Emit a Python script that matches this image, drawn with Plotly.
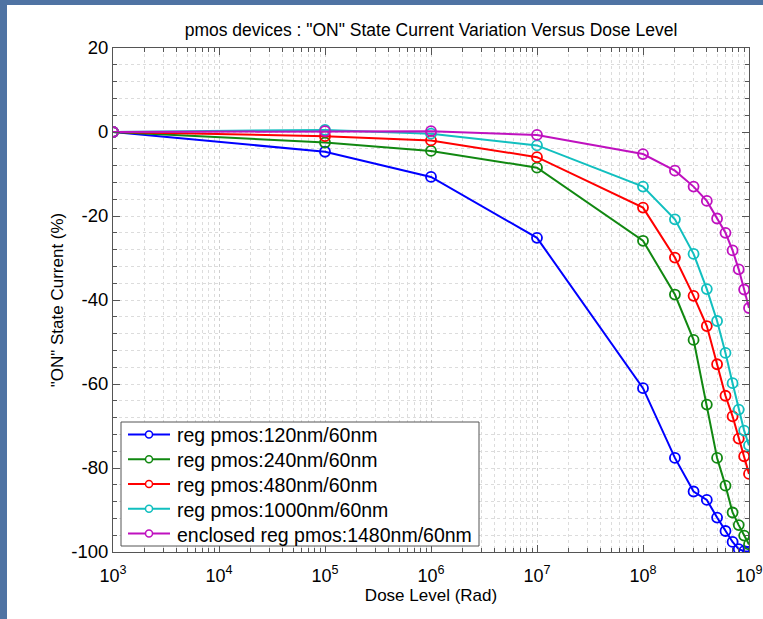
import plotly.graph_objects as go

dose = [1e3, 1e5, 1e6, 1e7, 1e8, 2e8, 3e8, 4e8, 5e8, 6e8, 7e8, 8e8, 9e8, 1e9]

reg_120 = [0, -4.7, -10.7, -25.2, -61.0, -77.6, -85.6, -87.6, -91.8, -95.0, -97.6, -99.3, -99.8, -99.9]
reg_240 = [0, -2.5, -4.5, -8.5, -25.9, -38.7, -49.5, -64.9, -77.6, -84.2, -90.6, -93.6, -96.1, -98.2]
reg_480 = [0, -1.0, -2.0, -6.0, -18.0, -29.9, -39.0, -46.2, -55.3, -62.8, -67.7, -73.0, -77.2, -81.4]
reg_1000 = [0, 0.5, -0.4, -3.2, -13.0, -20.8, -29.0, -37.4, -45.0, -52.6, -59.8, -66.1, -71.1, -74.6]
enc_1480 = [0, 0.2, 0.2, -0.7, -5.25, -9.2, -13.0, -16.4, -20.6, -24.0, -28.2, -32.7, -37.5, -41.9]

series_names = ["reg pmos:120nm/60nm", "reg pmos:240nm/60nm", "reg pmos:480nm/60nm",
                "reg pmos:1000nm/60nm", "enclosed reg pmos:1480nm/60nm"]
series_values = [reg_120, reg_240, reg_480, reg_1000, enc_1480]
series_colors = ["#0000ff", "#118811", "#ff0000", "#11bfbf", "#bf11bf"]

x_tickvals = [1e3, 1e4, 1e5, 1e6, 1e7, 1e8, 1e9]
x_ticktext = ["10<sup>3</sup>", "10<sup>4</sup>", "10<sup>5</sup>", "10<sup>6</sup>",
              "10<sup>7</sup>", "10<sup>8</sup>", "10<sup>9</sup>"]
y_tickvals = [-100, -80, -60, -40, -20, 0, 20]
y_ticktext = ["-100", "-80", "-60", "-40", "-20", "0", "20"]

fig = go.Figure()
for name, vals, col in zip(series_names, series_values, series_colors):
    fig.add_trace(go.Scatter(
        x=dose, y=vals, name=name, mode="lines+markers",
        line=dict(color=col, width=2),
        marker=dict(symbol="circle-open", size=10, color=col, line=dict(width=1.8, color=col)),
    ))

W, H = 763, 619
L, R, T, B = 113, 14, 48, 67
pw, ph = W - L - R, H - T - B

def px2paper_x(px):
    return (px - L) / pw

def px2paper_y(py):
    return (H - B - py) / ph

blue = "#4f73a3"
# slide background strips (left and top)
fig.add_shape(type="rect", xref="paper", yref="paper", layer="below",
              x0=px2paper_x(0), x1=px2paper_x(7), y0=px2paper_y(H), y1=px2paper_y(0),
              fillcolor=blue, line=dict(width=0))
fig.add_shape(type="rect", xref="paper", yref="paper", layer="below",
              x0=px2paper_x(0), x1=px2paper_x(W), y0=px2paper_y(5), y1=px2paper_y(0),
              fillcolor=blue, line=dict(width=0))

# legend box (drawn by hand to match the reference's compact spacing)
lg_x0, lg_x1, lg_y0, lg_y1 = 121, 479, 422, 546
fig.add_shape(type="rect", xref="paper", yref="paper", layer="above",
              x0=px2paper_x(lg_x0), x1=px2paper_x(lg_x1),
              y0=px2paper_y(lg_y1), y1=px2paper_y(lg_y0),
              fillcolor="white", line=dict(color="#555555", width=1))
row_h = (lg_y1 - lg_y0) / len(series_names)
for i, (name, col) in enumerate(zip(series_names, series_colors)):
    yc = lg_y0 + row_h * (i + 0.5)
    fig.add_shape(type="line", xref="paper", yref="paper", layer="above",
                  x0=px2paper_x(128), x1=px2paper_x(170),
                  y0=px2paper_y(yc), y1=px2paper_y(yc),
                  line=dict(color=col, width=2))
    fig.add_shape(type="circle", xref="paper", yref="paper", layer="above",
                  x0=px2paper_x(149 - 3.5), x1=px2paper_x(149 + 3.5),
                  y0=px2paper_y(yc + 3.5), y1=px2paper_y(yc - 3.5),
                  fillcolor="white", line=dict(color=col, width=1.5))
    fig.add_annotation(text=name, xref="paper", yref="paper",
                       x=px2paper_x(175), y=px2paper_y(yc + 1),
                       xanchor="left", yanchor="middle", showarrow=False,
                       font=dict(size=19.5, color="black"))

font_family = "Liberation Sans, Arial, sans-serif"
fig.update_layout(
    width=W, height=H,
    margin=dict(l=L, r=R, t=T, b=B, autoexpand=False),
    paper_bgcolor="white", plot_bgcolor="white",
    font=dict(family=font_family, color="black"),
    title=dict(text='pmos devices : "ON" State Current Variation Versus Dose Level',
               x=px2paper_x(431), xref="paper", xanchor="center",
               y=1 - 30 / H, yanchor="middle", font=dict(size=17.5)),
    showlegend=False,
)
fig.update_xaxes(
    type="log", range=[3, 9], automargin=False,
    tickvals=x_tickvals, ticktext=x_ticktext, tickfont=dict(size=18),
    ticklabelstandoff=7,
    title=dict(text="Dose Level (Rad)", font=dict(size=17), standoff=3),
    showline=True, linecolor="#555555", linewidth=1, mirror="allticks",
    ticks="inside", ticklen=7, tickcolor="#555555",
    showgrid=True, gridcolor="#cfcfcf", griddash="dot", gridwidth=1,
    zeroline=False,
    minor=dict(dtick="D1", ticks="inside", ticklen=4, tickcolor="#555555",
               showgrid=True, gridcolor="#dcdcdc", griddash="dot"),
)
fig.update_yaxes(
    range=[-100, 20], automargin=False,
    tickvals=y_tickvals, ticktext=y_ticktext, tickfont=dict(size=18.5),
    title=dict(text='"ON" State Current (%)', font=dict(size=17), standoff=3),
    showline=True, linecolor="#555555", linewidth=1, mirror="allticks",
    ticks="inside", ticklen=7, tickcolor="#555555",
    showgrid=True, gridcolor="#dcdcdc", griddash="dot", gridwidth=1,
    zeroline=False,
    minor=dict(dtick=4, ticks="inside", ticklen=4, tickcolor="#555555",
               showgrid=True, gridcolor="#dcdcdc", griddash="dot"),
)

fig.write_html("out.html", config={"displayModeBar": False},
               post_script="document.body.style.margin='0';document.body.style.overflow='hidden';")
